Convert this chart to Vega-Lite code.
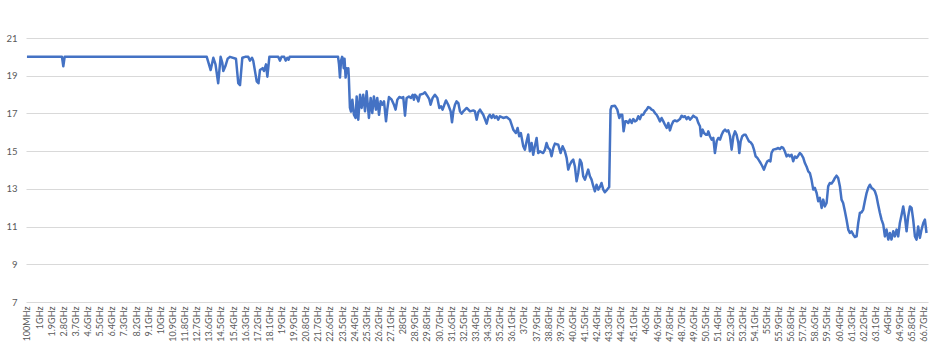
{
  "$schema": "https://vega.github.io/schema/vega-lite/v6.json",
  "width": 902,
  "height": 264,
  "autosize": {"type": "none"},
  "padding": {"left": 26, "top": 38, "right": 21, "bottom": 56},
  "background": "white",
  "config": {"view": {"stroke": null}, "font": "Lato"},
  "data": {"values": [
    {"f":0.1,"v":20},{"f":2.7,"v":20},{"f":2.8,"v":19.5},{"f":2.9,"v":20},{"f":13.45,"v":20},
    {"f":13.74,"v":19.3},{"f":13.94,"v":19.95},{"f":14.1,"v":19.6},{"f":14.3,"v":18.6},{"f":14.48,"v":20},
    {"f":14.6,"v":19.7},{"f":14.68,"v":19.25},{"f":14.83,"v":19.5},{"f":15.0,"v":19.9},{"f":15.17,"v":20},
    {"f":15.62,"v":19.9},{"f":15.79,"v":18.6},{"f":15.92,"v":18.5},{"f":16.09,"v":19.95},{"f":16.3,"v":20},
    {"f":16.53,"v":20},{"f":16.66,"v":19.8},{"f":16.81,"v":19.95},{"f":16.9,"v":19.8},{"f":17.16,"v":18.7},
    {"f":17.29,"v":18.6},{"f":17.4,"v":19.3},{"f":17.6,"v":19.4},{"f":17.7,"v":19.25},{"f":17.85,"v":19.6},
    {"f":17.95,"v":18.95},{"f":18.1,"v":20},{"f":18.76,"v":20},{"f":18.89,"v":19.8},{"f":19.0,"v":20},
    {"f":19.2,"v":20},{"f":19.31,"v":19.8},{"f":19.43,"v":19.95},{"f":19.53,"v":19.85},{"f":19.6,"v":20},
    {"f":23.2,"v":20},{"f":23.27,"v":19.6},{"f":23.34,"v":18.9},{"f":23.42,"v":19.8},{"f":23.5,"v":20},
    {"f":23.56,"v":19.9},{"f":23.62,"v":19.4},{"f":23.68,"v":19.9},{"f":23.76,"v":18.9},{"f":23.84,"v":19.4},
    {"f":23.9,"v":19.2},{"f":23.96,"v":19.4},{"f":24.0,"v":18.9},{"f":24.08,"v":17.3},{"f":24.16,"v":17.1},
    {"f":24.26,"v":17.73},{"f":24.38,"v":16.93},{"f":24.5,"v":16.76},{"f":24.58,"v":17.9},{"f":24.7,"v":16.67},
    {"f":24.83,"v":17.99},{"f":24.95,"v":17.29},{"f":25.07,"v":17.99},{"f":25.2,"v":17.11},{"f":25.32,"v":18.17},
    {"f":25.49,"v":16.76},{"f":25.62,"v":17.82},{"f":25.74,"v":17.02},{"f":25.86,"v":17.9},{"f":26.01,"v":17.2},
    {"f":26.11,"v":17.82},{"f":26.24,"v":16.93},{"f":26.36,"v":17.64},{"f":26.48,"v":17.46},{"f":26.61,"v":17.64},
    {"f":26.76,"v":16.58},{"f":26.85,"v":17.2},{"f":26.98,"v":17.87},{"f":27.18,"v":17.73},{"f":27.35,"v":17.46},
    {"f":27.47,"v":17.2},{"f":27.6,"v":17.73},{"f":27.75,"v":17.87},{"f":27.92,"v":17.82},{"f":28.04,"v":17.87},
    {"f":28.17,"v":16.88},{"f":28.29,"v":17.82},{"f":28.46,"v":17.9},{"f":28.61,"v":17.82},{"f":28.74,"v":17.99},
    {"f":28.83,"v":17.73},{"f":28.91,"v":17.99},{"f":29.03,"v":17.9},{"f":29.16,"v":17.64},{"f":29.28,"v":17.99},
    {"f":29.53,"v":18.05},{"f":29.65,"v":18.12},{"f":29.82,"v":17.94},{"f":29.97,"v":17.76},{"f":30.07,"v":17.46},
    {"f":30.22,"v":17.82},{"f":30.39,"v":17.99},{"f":30.57,"v":17.82},{"f":30.72,"v":17.29},{"f":30.84,"v":17.38},
    {"f":30.96,"v":17.2},{"f":31.09,"v":17.46},{"f":31.21,"v":17.69},{"f":31.38,"v":17.46},{"f":31.56,"v":17.11},
    {"f":31.66,"v":16.53},{"f":31.76,"v":17.11},{"f":31.88,"v":17.46},{"f":32.0,"v":17.64},{"f":32.13,"v":17.55},
    {"f":32.25,"v":17.11},{"f":32.37,"v":16.99},{"f":32.5,"v":17.11},{"f":32.75,"v":17.29},{"f":33.0,"v":17.11},
    {"f":33.24,"v":17.16},{"f":33.36,"v":17.11},{"f":33.49,"v":16.67},{"f":33.61,"v":17.06},{"f":33.74,"v":17.2},
    {"f":33.86,"v":17.06},{"f":33.98,"v":16.93},{"f":34.23,"v":16.46},{"f":34.35,"v":16.8},{"f":34.47,"v":16.93},
    {"f":34.6,"v":16.76},{"f":34.72,"v":16.93},{"f":34.84,"v":16.76},{"f":34.97,"v":16.85},{"f":35.09,"v":16.67},
    {"f":35.22,"v":16.85},{"f":35.46,"v":16.76},{"f":35.71,"v":16.81},{"f":35.96,"v":16.67},{"f":36.21,"v":16.14},
    {"f":36.4,"v":15.96},{"f":36.53,"v":16.23},{"f":36.65,"v":15.79},{"f":36.77,"v":15.96},{"f":36.95,"v":15.26},
    {"f":37.07,"v":15.08},{"f":37.2,"v":15.52},{"f":37.32,"v":15.88},{"f":37.44,"v":14.99},{"f":37.57,"v":15.43},
    {"f":37.69,"v":14.81},{"f":37.81,"v":15.26},{"f":37.94,"v":15.7},{"f":38.06,"v":14.9},{"f":38.19,"v":14.99},
    {"f":38.43,"v":14.9},{"f":38.56,"v":15.08},{"f":38.68,"v":15.43},{"f":38.8,"v":15.17},{"f":38.93,"v":15.08},
    {"f":39.05,"v":14.73},{"f":39.18,"v":15.17},{"f":39.3,"v":15.4},{"f":39.55,"v":15.34},{"f":39.72,"v":14.9},
    {"f":39.87,"v":15.26},{"f":40.04,"v":14.99},{"f":40.17,"v":14.64},{"f":40.29,"v":14.02},{"f":40.41,"v":14.28},
    {"f":40.54,"v":14.46},{"f":40.66,"v":14.55},{"f":40.78,"v":14.2},{"f":40.91,"v":13.4},{"f":41.03,"v":13.84},
    {"f":41.16,"v":14.55},{"f":41.28,"v":14.37},{"f":41.4,"v":13.67},{"f":41.53,"v":13.49},{"f":41.65,"v":13.75},
    {"f":41.77,"v":14.02},{"f":41.9,"v":13.67},{"f":42.02,"v":13.49},{"f":42.15,"v":13.14},{"f":42.27,"v":12.87},
    {"f":42.39,"v":13.22},{"f":42.52,"v":12.96},{"f":42.64,"v":13.1},{"f":42.76,"v":13.31},{"f":42.89,"v":12.96},
    {"f":43.01,"v":12.82},{"f":43.18,"v":12.96},{"f":43.33,"v":13.1},{"f":43.43,"v":17.2},{"f":43.51,"v":17.38},
    {"f":43.75,"v":17.41},{"f":43.93,"v":17.2},{"f":44.08,"v":16.76},{"f":44.17,"v":16.93},{"f":44.3,"v":16.93},
    {"f":44.4,"v":16.05},{"f":44.52,"v":16.58},{"f":44.63,"v":16.58},{"f":44.75,"v":16.49},{"f":44.87,"v":16.67},
    {"f":45.0,"v":16.49},{"f":45.12,"v":16.7},{"f":45.24,"v":16.58},{"f":45.37,"v":16.63},{"f":45.49,"v":16.85},
    {"f":45.61,"v":16.7},{"f":45.74,"v":16.93},{"f":45.86,"v":16.93},{"f":45.99,"v":17.11},{"f":46.11,"v":17.2},
    {"f":46.23,"v":17.34},{"f":46.36,"v":17.29},{"f":46.48,"v":17.2},{"f":46.6,"v":17.16},{"f":46.73,"v":17.02},
    {"f":46.85,"v":16.93},{"f":46.98,"v":16.76},{"f":47.1,"v":16.58},{"f":47.22,"v":16.76},{"f":47.35,"v":16.58},
    {"f":47.47,"v":16.4},{"f":47.6,"v":16.23},{"f":47.72,"v":16.49},{"f":47.84,"v":16.1},{"f":47.97,"v":16.4},
    {"f":48.09,"v":16.58},{"f":48.21,"v":16.63},{"f":48.34,"v":16.58},{"f":48.46,"v":16.63},{"f":48.58,"v":16.7},
    {"f":48.71,"v":16.88},{"f":48.83,"v":16.81},{"f":48.96,"v":16.85},{"f":49.08,"v":16.7},{"f":49.2,"v":16.81},
    {"f":49.33,"v":16.67},{"f":49.45,"v":16.76},{"f":49.57,"v":16.88},{"f":49.7,"v":16.81},{"f":49.82,"v":16.76},
    {"f":49.95,"v":16.49},{"f":50.07,"v":16.32},{"f":50.14,"v":15.79},{"f":50.27,"v":16.14},{"f":50.37,"v":15.96},
    {"f":50.52,"v":15.87},{"f":50.61,"v":15.87},{"f":50.69,"v":16.05},{"f":50.81,"v":15.79},{"f":50.94,"v":15.61},
    {"f":51.06,"v":15.7},{"f":51.18,"v":14.9},{"f":51.31,"v":15.52},{"f":51.43,"v":15.7},{"f":51.56,"v":15.61},
    {"f":51.68,"v":15.87},{"f":51.8,"v":16.05},{"f":51.93,"v":16.14},{"f":52.05,"v":16.05},{"f":52.17,"v":16.1},
    {"f":52.3,"v":15.79},{"f":52.42,"v":15.08},{"f":52.55,"v":15.79},{"f":52.67,"v":16.05},{"f":52.79,"v":15.87},
    {"f":52.92,"v":15.43},{"f":52.99,"v":14.9},{"f":53.09,"v":15.52},{"f":53.21,"v":15.79},{"f":53.34,"v":15.87},
    {"f":53.46,"v":15.87},{"f":53.58,"v":15.7},{"f":53.71,"v":15.52},{"f":53.83,"v":15.47},{"f":53.96,"v":15.34},
    {"f":54.08,"v":15.08},{"f":54.2,"v":14.73},{"f":54.33,"v":14.64},{"f":54.45,"v":14.51},{"f":54.57,"v":14.37},
    {"f":54.7,"v":14.2},{"f":54.82,"v":14.02},{"f":54.95,"v":14.28},{"f":55.07,"v":14.46},{"f":55.19,"v":14.51},
    {"f":55.3,"v":14.46},{"f":55.38,"v":14.9},{"f":55.51,"v":15.08},{"f":55.71,"v":15.11},{"f":55.88,"v":15.17},
    {"f":56.0,"v":15.11},{"f":56.13,"v":15.22},{"f":56.25,"v":15.17},{"f":56.37,"v":14.99},{"f":56.5,"v":14.72},
    {"f":56.62,"v":14.81},{"f":56.74,"v":14.72},{"f":56.87,"v":14.81},{"f":56.99,"v":14.46},{"f":57.12,"v":14.72},
    {"f":57.24,"v":14.64},{"f":57.36,"v":14.76},{"f":57.49,"v":14.9},{"f":57.61,"v":14.81},{"f":57.74,"v":14.64},
    {"f":57.86,"v":14.37},{"f":57.98,"v":14.19},{"f":58.11,"v":13.93},{"f":58.23,"v":13.84},{"f":58.35,"v":13.49},
    {"f":58.48,"v":12.96},{"f":58.6,"v":13.05},{"f":58.73,"v":12.78},{"f":58.85,"v":12.34},{"f":58.97,"v":12.52},
    {"f":59.1,"v":11.99},{"f":59.22,"v":12.43},{"f":59.34,"v":12.07},{"f":59.47,"v":12.25},{"f":59.59,"v":13.13},
    {"f":59.71,"v":13.31},{"f":59.84,"v":13.28},{"f":59.96,"v":13.4},{"f":60.09,"v":13.58},{"f":60.21,"v":13.7},
    {"f":60.33,"v":13.58},{"f":60.46,"v":13.13},{"f":60.58,"v":12.43},{"f":60.7,"v":12.25},{"f":60.83,"v":11.81},
    {"f":60.95,"v":11.37},{"f":61.08,"v":10.84},{"f":61.2,"v":10.66},{"f":61.32,"v":10.75},{"f":61.45,"v":10.57},
    {"f":61.57,"v":10.45},{"f":61.7,"v":10.48},{"f":61.82,"v":11.19},{"f":61.94,"v":11.72},{"f":62.07,"v":11.76},
    {"f":62.19,"v":11.9},{"f":62.31,"v":12.34},{"f":62.44,"v":12.78},{"f":62.56,"v":13.05},{"f":62.69,"v":13.22},
    {"f":62.81,"v":13.05},{"f":62.93,"v":12.99},{"f":63.06,"v":12.87},{"f":63.18,"v":12.6},{"f":63.3,"v":12.16},
    {"f":63.43,"v":11.72},{"f":63.55,"v":11.37},{"f":63.68,"v":11.1},{"f":63.8,"v":10.48},{"f":63.92,"v":10.84},
    {"f":64.05,"v":10.31},{"f":64.17,"v":10.66},{"f":64.29,"v":10.31},{"f":64.42,"v":10.75},{"f":64.54,"v":10.48},
    {"f":64.67,"v":10.84},{"f":64.79,"v":10.48},{"f":64.91,"v":11.19},{"f":65.04,"v":11.63},{"f":65.16,"v":12.07},
    {"f":65.28,"v":11.55},{"f":65.41,"v":10.75},{"f":65.53,"v":11.55},{"f":65.66,"v":12.07},{"f":65.78,"v":11.99},
    {"f":65.9,"v":11.37},{"f":66.03,"v":10.48},{"f":66.15,"v":10.31},{"f":66.27,"v":11.01},{"f":66.4,"v":10.4},
    {"f":66.52,"v":10.84},{"f":66.65,"v":11.19},{"f":66.77,"v":11.37},{"f":66.89,"v":10.66}
  ]},
  "mark": {"type": "line", "color": "#4472C4", "strokeWidth": 2.5, "strokeJoin": "round"},
  "encoding": {
    "x": {
      "field": "f", "type": "quantitative",
      "scale": {"domain": [0.03, 67.0], "nice": false, "zero": false},
      "axis": {
        "values": [0.1,1,1.9,2.8,3.7,4.6,5.5,6.4,7.3,8.2,9.1,10,10.9,11.8,12.7,13.6,14.5,15.4,16.3,17.2,18.1,19,19.9,20.8,21.7,22.6,23.5,24.4,25.3,26.2,27.1,28,28.9,29.8,30.7,31.6,32.5,33.4,34.3,35.2,36.1,37,37.9,38.8,39.7,40.6,41.5,42.4,43.3,44.2,45.1,46,46.9,47.8,48.7,49.6,50.5,51.4,52.3,53.2,54.1,55,55.9,56.8,57.7,58.6,59.5,60.4,61.3,62.2,63.1,64,64.9,65.8,66.7],
        "labelExpr": "datum.value < 0.5 ? '100MHz' : format(datum.value, '.1~f') + 'GHz'",
        "labelAngle": -90,
        "labelOverlap": false,
        "labelFlush": false,
        "labelBound": false,
        "labelFontSize": 9,
        "labelColor": "#595959",
        "labelPadding": 4,
        "grid": false,
        "ticks": false,
        "domain": false,
        "title": null
      }
    },
    "y": {
      "field": "v", "type": "quantitative",
      "scale": {"domain": [7, 21], "nice": false, "zero": false},
      "axis": {
        "values": [7, 9, 11, 13, 15, 17, 19, 21],
        "grid": true,
        "gridColor": "#d9d9d9",
        "gridWidth": 1,
        "domain": false,
        "ticks": false,
        "title": null,
        "labelPadding": 9,
        "labelFontSize": 9.5,
        "labelColor": "#595959"
      }
    }
  }
}
